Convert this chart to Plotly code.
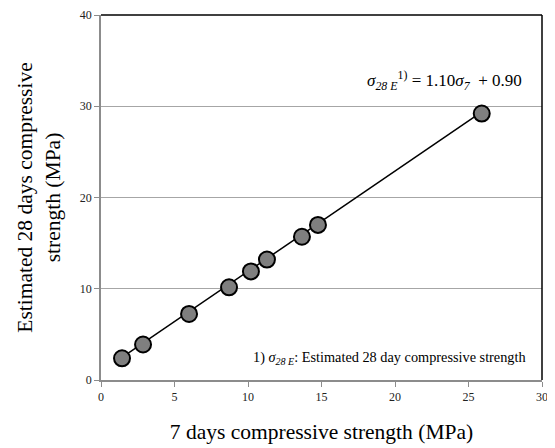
import plotly.graph_objects as go

strength_7d = [1.43, 2.86, 5.99, 8.71, 10.2, 11.29, 13.67, 14.76, 25.9]
strength_28e = [2.38, 3.89, 7.24, 10.16, 11.9, 13.2, 15.7, 17.0, 29.2]
slope, intercept = 1.10, 0.90
x_ticks = [0, 5, 10, 15, 20, 25, 30]
y_ticks = [0, 10, 20, 30, 40]

line_x = [min(strength_7d), max(strength_7d)]
line_y = [slope * v + intercept for v in line_x]

fig = go.Figure()
fig.add_trace(go.Scatter(x=line_x, y=line_y, mode="lines",
                         line=dict(color="black", width=1.5), showlegend=False))
fig.add_trace(go.Scatter(x=strength_7d, y=strength_28e, mode="markers",
                         marker=dict(size=16, color="#7f7f7f",
                                     line=dict(color="black", width=2)),
                         showlegend=False))

font = "Liberation Serif, Times New Roman, serif"
# page body has an 8px default margin, so the figure is sized to fill 555x448 after it
fig.update_layout(
    width=547, height=440,
    margin=dict(l=93, r=13, t=7, b=68),
    paper_bgcolor="white", plot_bgcolor="white",
    font=dict(family=font, color="black"),
    xaxis=dict(range=[0, 30], tickvals=x_ticks, showgrid=False, automargin=False,
               showline=True, linecolor="#8c8c8c", linewidth=1.5,
               ticks="outside", ticklen=5, tickcolor="#8c8c8c",
               tickfont=dict(size=12, family=font, color="#222"), ticklabeloverflow="allow",
               title=dict(text="7 days compressive strength (MPa)",
                          font=dict(size=21.5, family=font), standoff=21),
               zeroline=False),
    yaxis=dict(range=[0, 40], tickvals=y_ticks, showgrid=True, automargin=False,
               gridcolor="#a6a6a6", gridwidth=1.2,
               showline=True, linecolor="#8c8c8c", linewidth=1.5,
               ticks="outside", ticklen=5, tickcolor="#8c8c8c",
               tickfont=dict(size=12, family=font, color="#222"), ticklabeloverflow="allow",
               title=dict(text="Estimated 28 days compressive<br>strength (MPa)",
                          font=dict(size=21.5, family=font), standoff=13),
               zeroline=False),
)
# black top and right border
fig.add_shape(type="line", xref="paper", yref="paper", x0=0, x1=1, y0=1, y1=1,
              line=dict(color="black", width=1.5))
fig.add_shape(type="line", xref="paper", yref="paper", x0=1, x1=1, y0=0, y1=1,
              line=dict(color="black", width=1.5))

fig.add_annotation(x=23.4, y=32.8, xref="x", yref="y", showarrow=False,
                   text="<i>σ<sub>28 E</sub></i><sup>1)</sup> = 1.10<i>σ<sub>7</sub></i>  + 0.90",
                   font=dict(size=17, family=font))
fig.add_annotation(x=0.968, y=0.031, xref="paper", yref="paper", showarrow=False,
                   xanchor="right",
                   text="1) <i>σ<sub>28 E</sub></i>: Estimated 28 day compressive strength",
                   font=dict(size=14.3, family=font))

fig.write_html("out.html")
